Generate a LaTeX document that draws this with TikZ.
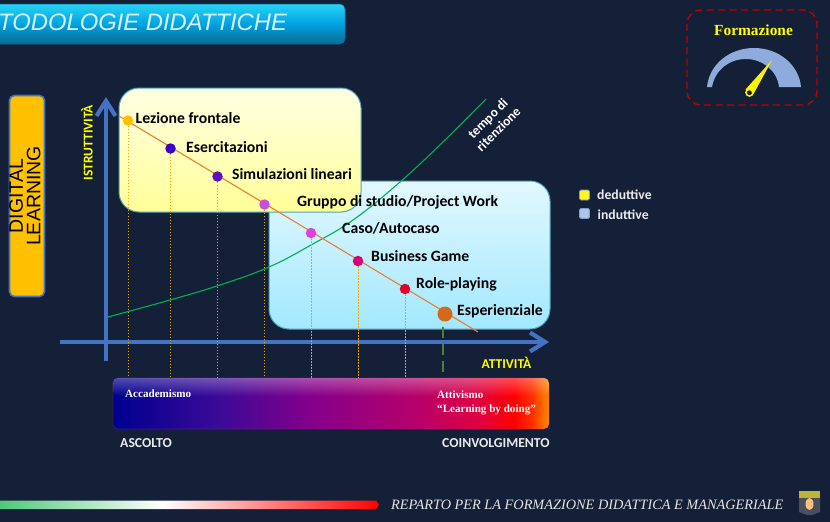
\documentclass[tikz,border=0pt]{standalone}
\usepackage{fontspec}
\setmainfont{Carlito}
\newfontfamily\serifb{Liberation Serif}
\newfontfamily\titlef{Liberation Sans}
\newfontfamily\helv{Liberation Sans}
\usetikzlibrary{arrows.meta,fadings}
\definecolor{bgc}{HTML}{141F38}
\definecolor{axisc}{HTML}{4472C4}
\definecolor{gaugec}{HTML}{8FAADC}
\definecolor{curvec}{HTML}{00B050}
\definecolor{linec}{HTML}{ED7D31}
\definecolor{yell}{HTML}{FFFF00}
\definecolor{dropc}{HTML}{E8A800}
\definecolor{panelb}{HTML}{4FA3B8}
\definecolor{b0}{HTML}{00008F}
\definecolor{b1c}{HTML}{3A0A98}
\definecolor{b2c}{HTML}{80008C}
\definecolor{b3c}{HTML}{B8006A}
\definecolor{b4c}{HTML}{E00040}
\definecolor{b5c}{HTML}{FF0000}
\definecolor{b6c}{HTML}{FF2E00}
\definecolor{b7c}{HTML}{FF8C00}
\definecolor{fg}{HTML}{50C878}
\definecolor{fw}{HTML}{FFFFFF}
\definecolor{fr}{HTML}{FF0000}
\pgfdeclarehorizontalshading{barshade}{100bp}{
 color(0bp)=(b0);
 color(25bp)=(b0);
 color(37bp)=(b1c);
 color(47bp)=(b2c);
 color(60bp)=(b3c);
 color(67bp)=(b4c);
 color(71bp)=(b5c);
 color(73bp)=(b6c);
 color(75bp)=(b7c);
 color(100bp)=(b7c)}
\pgfdeclarehorizontalshading{footshade}{100bp}{
 color(0bp)=(fg);
 color(25bp)=(fg);
 color(46.5bp)=(fw);
 color(75bp)=(fr);
 color(100bp)=(fr)}
\tikzset{
 x=1pt,y=-1pt,
 axisline/.style={axisc,line width=4.6pt,-{Straight Barb[length=15pt,width=19pt,line width=4.2pt]}},
 dotnode/.style={circle,inner sep=0pt,minimum size=10.5pt,draw=none},
 droplink/.style={draw=#1,line width=.8pt,dash pattern=on 1.5pt off 1.5pt},
 itemlabel/.style={anchor=west,inner sep=0pt,black,font=\fontsize{15.7}{17}\selectfont\bfseries},
 whitelabel/.style={anchor=west,inner sep=0pt,white!92!black,font=\fontsize{13.7}{15}\selectfont\bfseries},
 yellowlabel/.style={inner sep=0pt,yell,font=\fontsize{13.5}{14}\selectfont\bfseries},
 serifnote/.style={anchor=west,inner sep=0pt,white,align=left,font=\serifb\fontsize{11.1}{14}\selectfont\bfseries},
 legendbox/.style={minimum size=10pt,inner sep=0pt,rounded corners=1.5pt,draw=axisc!70!white,line width=.8pt},
 panel/.style={rounded corners=20pt,draw=panelb,line width=1pt},
}
\begin{document}
\begin{tikzpicture}
\useasboundingbox (0,0) rectangle (830,522);
\fill[bgc] (0,0) rectangle (830,522);
% title bar
\begin{scope}
\clip (0,0) rectangle (830,522);
\definecolor{ttop}{HTML}{28D4F6}
\definecolor{tmid}{HTML}{00A2E0}
\definecolor{tbot}{HTML}{0A6A92}
\draw[draw=tbot,line width=.5pt,rounded corners=5pt,top color=ttop,bottom color=tbot,middle color=tmid]
 (-12,4) rectangle (345,44);
\node[anchor=west,inner sep=0pt,white!85!cyan] (title) at (-2,22.5) {\titlef\fontsize{23.8}{28}\selectfont\itshape TODOLOGIE DIDATTICHE};
\end{scope}
% digital learning
\definecolor{dlc}{HTML}{FFC000}
\node[draw=axisc,line width=1.6pt,fill=dlc,rounded corners=5pt,minimum width=35pt,minimum height=201pt,inner sep=0pt] (dl) at (27,196) {};
\node[rotate=90,align=center,black,inner sep=0pt,font=\helv\fontsize{19.5}{17.5}\selectfont] (dltext) at (25,196) {DIGITAL\\LEARNING};
% panels
\definecolor{itop}{HTML}{E2F8FF}
\definecolor{ibot}{HTML}{A2E8FF}
\definecolor{dtop}{HTML}{FFFFE2}
\definecolor{dbot}{HTML}{FFFF99}
\node[panel,minimum width=281pt,minimum height=148pt,inner sep=0pt,top color=itop,bottom color=ibot] (ind) at (409.5,255) {};
\node[panel,minimum width=242pt,minimum height=124pt,inner sep=0pt,top color=dtop,bottom color=dbot] (ded) at (240,150) {};
% axes
\coordinate (yb) at (106,361);
\coordinate (yt) at (106,97);
\coordinate (xl) at (60,342);
\coordinate (xr) at (549,342);
\draw[axisline] (yb) -- (yt);
\draw[axisline] (xl) -- (xr);
% retention curve
\draw[curvec,line width=1.1pt] plot[smooth,tension=.7] coordinates {(108,317) (170,300) (220,285) (269,267) (311,245) (353,220) (400,182) (445,140) (486,99)};
\node[rotate=45,align=center,white,inner sep=0pt,font=\fontsize{13.4}{15}\selectfont\bfseries] (tempo) at (493,124) {tempo di\\ritenzione};
% main line
\coordinate (ls) at (119,116);
\coordinate (le) at (478,332);
\draw[linec,line width=1.1pt] (ls) -- (le);
% dots
\definecolor{c1}{HTML}{FFC000}
\definecolor{c2}{HTML}{3A00C8}
\definecolor{c3}{HTML}{5A10C0}
\definecolor{c4}{HTML}{C850D8}
\definecolor{c5}{HTML}{E040E0}
\definecolor{c6}{HTML}{D80070}
\definecolor{c7}{HTML}{E0002A}
\definecolor{c8}{HTML}{D2691E}
\node[dotnode,fill=c1] (d1) at (128,120.5) {};
\node[dotnode,fill=c2] (d2) at (170.5,148.5) {};
\node[dotnode,fill=c3] (d3) at (217.5,176.5) {};
\node[dotnode,fill=c4] (d4) at (264.5,204.5) {};
\node[dotnode,fill=c5] (d5) at (311,233) {};
\node[dotnode,fill=c6] (d6) at (358,261) {};
\node[dotnode,fill=c7] (d7) at (405,289) {};
\node[dotnode,fill=c8,minimum size=15pt] (d8) at (445,314) {};
% drops
\coordinate (b1) at (128,378);
\coordinate (b2) at (170.5,378);
\coordinate (b3) at (217.5,378);
\coordinate (b4) at (264.5,378);
\coordinate (b5) at (311,378);
\coordinate (b6) at (358,378);
\coordinate (b7) at (405,378);
\draw[droplink=dropc] (d1) -- (b1);
\draw[droplink=dropc] (d2) -- (b2);
\draw[droplink=dropc] (d3) -- (b3);
\draw[droplink=dropc] (d4) -- (b4);
\draw[droplink=dropc] (d5) -- (b5);
\draw[droplink=dropc] (d6) -- (b6);
\draw[droplink=dropc] (d7) -- (b7);
\coordinate (gt) at (443,327);
\coordinate (gb) at (443,372);
\definecolor{gdash}{HTML}{4F7F35}
\draw[gdash,line width=2pt,dash pattern=on 11pt off 6pt] (gt) -- (gb);
% labels
\node[itemlabel] (t1) at (135.5,118) {Lezione frontale};
\node[itemlabel] (t2) at (186,147) {Esercitazioni};
\node[itemlabel] (t3) at (232,174.5) {Simulazioni lineari};
\node[itemlabel] (t4) at (297,202.5) {Gruppo di studio/Project Work};
\node[itemlabel] (t5) at (342,228.5) {Caso/Autocaso};
\node[itemlabel] (t6) at (371,256) {Business Game};
\node[itemlabel] (t7) at (416,284) {Role-playing};
\node[itemlabel] (t8) at (457,311.5) {Esperienziale};
\node[yellowlabel,rotate=90] (ist) at (87,142.5) {ISTRUTTIVITÀ};
\node[yellowlabel] (att) at (506.5,362.5) {ATTIVITÀ};
% gradient bar
\node[minimum width=436pt,minimum height=51pt,inner sep=0pt,rounded corners=5pt,shading=barshade,draw=white!20!violet,draw opacity=.35,line width=.6pt] (bar) at (331,403.5) {};
\fill[white,path fading=south,fill opacity=.3,rounded corners=5pt] (113,378) rectangle (549,396);
\node[serifnote] (acc) at (125,393.5) {Accademismo};
\node[serifnote] (attv) at (437,403) {Attivismo\\“Learning by doing”};
\node[whitelabel] (asc) at (120,443) {ASCOLTO};
\node[whitelabel] (coi) at (442,443) {COINVOLGIMENTO};
% legend
\node[legendbox,fill=yellow!85!white] (l1) at (584.5,195) {};
\node[legendbox,fill=gaugec!70!white] (l2) at (584.5,213.5) {};
\node[whitelabel] (lt1) at (597,194.5) {deduttive};
\node[whitelabel] (lt2) at (597.5,214.5) {induttive};
% gauge
\definecolor{dashred}{HTML}{C00000}
\draw[draw=dashred,line width=1.4pt,dash pattern=on 7pt off 4.5pt,rounded corners=14pt] (687,10) rectangle (817,105);
\node[inner sep=0pt,yell,font=\serifb\fontsize{15.4}{16}\selectfont\bfseries] (form) at (753.5,30) {Formazione};
\fill[gaugec] (707,87) .. controls (709,65) and (729,48) .. (754,48) .. controls (779,48) and (799,65) .. (801,87)
 -- (779,87) .. controls (777,70) and (762,59) .. (746,59) .. controls (729,59) and (715,70) .. (712,87) -- cycle;
\coordinate (ntip) at (772,60);
\node[circle,draw=yellow,line width=1.6pt,fill=bgc,minimum size=7pt,inner sep=0pt] (nb) at (749.5,92.5) {};
\fill[yellow] (ntip) -- (753.5,94) -- (745.5,89.5) -- cycle;
\node[circle,fill=bgc,minimum size=4.5pt,inner sep=0pt] at (749.5,92.5) {};
% footer
\path[shading=footshade] (0,500.5) -- (376,500.5) -- (379,504.5) -- (376,509) -- (0,509) -- cycle;
\node[anchor=west,inner sep=0pt,white!90!black,font=\serifb\fontsize{14.3}{15}\selectfont\itshape] (foot) at (391,504.5) {REPARTO PER LA FORMAZIONE DIDATTICA E MANAGERIALE};
% emblem
\fill[yellow!70!black] (799,491) rectangle (820,500);
\fill[bgc!50!gray] (799,498) rectangle (820,512) -- (812,515) -- (807,515) -- (799,512) -- cycle;
\fill[orange!50!white] (809.5,504) ellipse (4pt and 6pt);
\end{tikzpicture}
\end{document}
